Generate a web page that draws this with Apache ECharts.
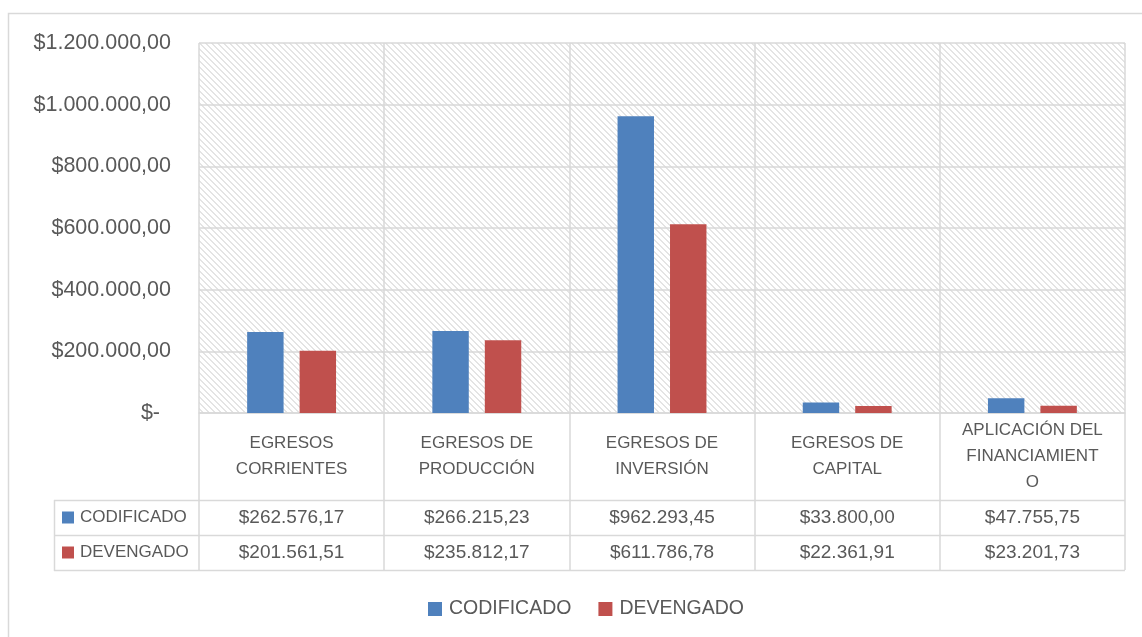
<!DOCTYPE html>
<html>
<head>
<meta charset="utf-8">
<script src="https://cdn.jsdelivr.net/npm/echarts@6/dist/echarts.min.js"></script>
<style>
  html, body { margin: 0; padding: 0; background: #fff; }
  #chart { width: 1142px; height: 637px; }
</style>
</head>
<body>
<div id="chart"></div>
<script>
// categorias (con los saltos de linea como en la tabla de Excel)
var categorias = ['EGRESOS\nCORRIENTES', 'EGRESOS DE\nPRODUCCIÓN', 'EGRESOS DE\nINVERSIÓN', 'EGRESOS DE\nCAPITAL', 'APLICACIÓN DEL\nFINANCIAMIENT\nO'];
var series_nombres = ['CODIFICADO', 'DEVENGADO'];
var codificado = [262576.17, 266215.23, 962293.45, 33800.00, 47755.75];
var devengado = [201561.51, 235812.17, 611786.78, 22361.91, 23201.73];
var colores = ['#4f81bd', '#c0504d'];

var gris = '#d9d9d9';
var texto = '#595959';
var fuente = 'Liberation Sans';

function money(v) {
  var s = v.toFixed(2).split('.');
  return '$' + s[0].replace(/\B(?=(\d{3})+(?!\d))/g, '.') + ',' + s[1];
}

// trama diagonal del fondo
function trama() {
  var c = document.createElement('canvas');
  c.width = 6; c.height = 6;
  var ctx = c.getContext('2d');
  ctx.fillStyle = '#ffffff';
  ctx.fillRect(0, 0, 6, 6);
  ctx.fillStyle = '#e4e4e4';
  for (var y = 0; y < 6; y++) {
    for (var x = 0; x < 6; x++) {
      var d = ((x - y) % 6 + 6) % 6;
      if (d === 0 || d === 1) ctx.fillRect(x, y, 1, 1);
    }
  }
  return c;
}

var chart = echarts.init(document.getElementById('chart'));

var graficos = [
  { type: 'rect', shape: { x: 8.5, y: 13.5, width: 1200, height: 700 }, style: { fill: 'none', stroke: gris, lineWidth: 1.5 }, silent: true },
  { type: 'line', shape: { x1: 54, y1: 500.5, x2: 1125, y2: 500.5 }, style: { stroke: gris, lineWidth: 1.5 } },
  { type: 'line', shape: { x1: 54, y1: 535.5, x2: 1125, y2: 535.5 }, style: { stroke: gris, lineWidth: 1.5 } },
  { type: 'line', shape: { x1: 54, y1: 570.5, x2: 1125, y2: 570.5 }, style: { stroke: gris, lineWidth: 1.5 } },
  { type: 'line', shape: { x1: 54.5, y1: 500, x2: 54.5, y2: 571 }, style: { stroke: gris, lineWidth: 1.5 } }
];
series_nombres.forEach(function (n, i) {
  var cy = 517.5 + i * 35;
  graficos.push({ type: 'rect', shape: { x: 62, y: cy - 6, width: 12, height: 12 }, style: { fill: colores[i] } });
  graficos.push({ type: 'text', x: 80, y: cy, style: { text: n, fill: texto, font: '17px "' + fuente + '"', verticalAlign: 'middle' } });
});

var option = {
  animation: false,
  textStyle: { fontFamily: fuente },
  grid: {
    left: 199, top: 43, right: 17, bottom: 224,
    show: true, borderWidth: 0,
    backgroundColor: { image: trama(), repeat: 'repeat' }
  },
  legend: {
    data: series_nombres,
    left: 423, top: 594,
    icon: 'rect', itemWidth: 14, itemHeight: 14, itemGap: 27,
    selectedMode: false,
    textStyle: { fontSize: 19.5, color: texto, padding: [0, 0, 0, 2] }
  },
  xAxis: [
    {
      type: 'category', data: categorias, position: 'bottom',
      axisLine: { lineStyle: { color: gris, width: 1.5 } },
      axisTick: { show: true, length: 157, lineStyle: { color: gris, width: 1.5 } },
      splitLine: { show: true, lineStyle: { color: gris, width: 1.5 } },
      axisLabel: { margin: 43, verticalAlign: 'middle', lineHeight: 26, fontSize: 17, color: texto, interval: 0 }
    },
    {
      type: 'category', data: categorias, position: 'bottom',
      axisLine: { show: false }, axisTick: { show: false }, splitLine: { show: false },
      axisLabel: { margin: 104.5, verticalAlign: 'middle', fontSize: 19, color: texto, interval: 0,
        formatter: function (v, i) { return money(codificado[i]); } }
    },
    {
      type: 'category', data: categorias, position: 'bottom',
      axisLine: { show: false }, axisTick: { show: false }, splitLine: { show: false },
      axisLabel: { margin: 139.5, verticalAlign: 'middle', fontSize: 19, color: texto, interval: 0,
        formatter: function (v, i) { return money(devengado[i]); } }
    }
  ],
  yAxis: {
    type: 'value', min: 0, max: 1200000, interval: 200000,
    axisLine: { show: false }, axisTick: { show: false },
    splitLine: { lineStyle: { color: gris, width: 1.5 } },
    axisLabel: {
      margin: 28, fontSize: 21.5, color: texto,
      formatter: function (v) { return v === 0 ? '{z|$-}' : money(v); },
      rich: { z: { fontSize: 21.5, color: texto, padding: [0, 11, 0, 0] } }
    }
  },
  series: [
    { name: series_nombres[0], type: 'bar', data: codificado, itemStyle: { color: colores[0] }, barGap: '44%', barCategoryGap: '52%' },
    { name: series_nombres[1], type: 'bar', data: devengado, itemStyle: { color: colores[1] }, barGap: '44%', barCategoryGap: '52%' }
  ],
  graphic: graficos
};

chart.setOption(option);
</script>
</body>
</html>
